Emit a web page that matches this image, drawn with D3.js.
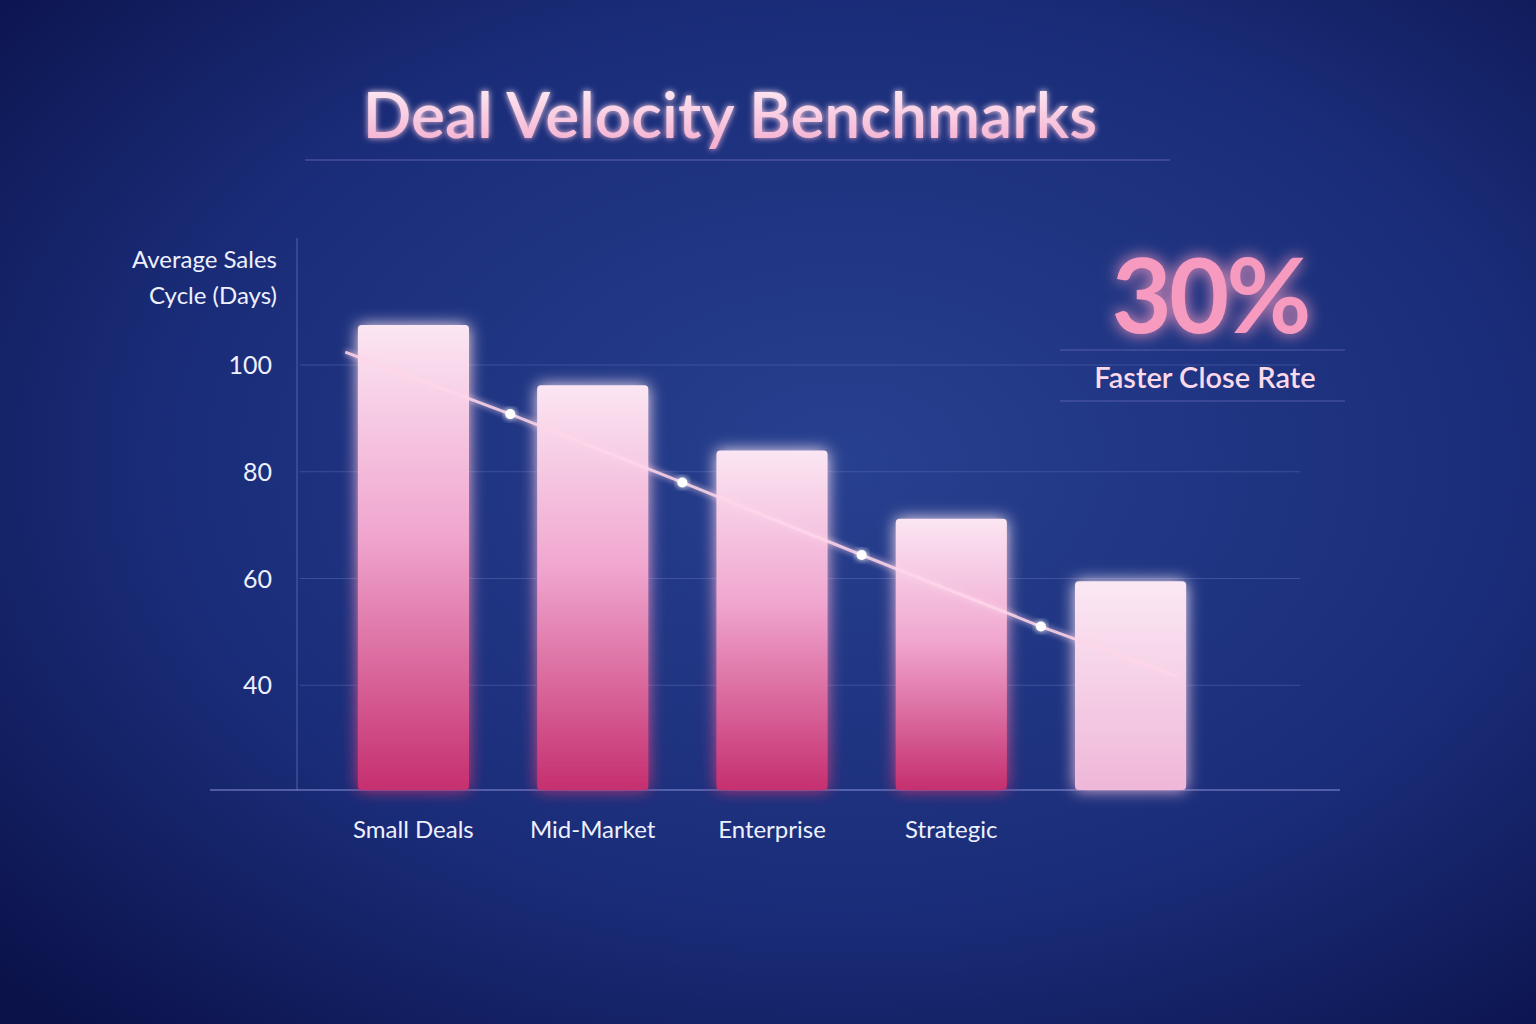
<!DOCTYPE html>
<html><head><meta charset="utf-8">
<script src="https://cdn.jsdelivr.net/npm/d3@7"></script>
<style>body{margin:0;background:#0c1550}svg{display:block}</style>
</head><body>
<svg id="chart" width="1536" height="1024"></svg>
<script>
var categories = ["Small Deals", "Mid-Market", "Enterprise", "Strategic", ""];
var cycleDays = [107.5, 96.2, 84, 71.2, 59.5];
var yTicks = [40, 60, 80, 100];
var trendIndex = [-0.38, 0.54, 1.5, 2.5, 3.5, 4.26];
var trendDays = [102.4, 90.8, 78, 64.4, 51, 41.7];

var svg = d3.select("#chart");
var defs = svg.append("defs");

var bg = defs.append("radialGradient").attr("id", "bg").attr("cx", "0.55").attr("cy", "0.45").attr("r", "0.75");
bg.append("stop").attr("offset", "0").attr("stop-color", "#27408f");
bg.append("stop").attr("offset", "0.6").attr("stop-color", "#1a2c78");
bg.append("stop").attr("offset", "1").attr("stop-color", "#0b124a");
svg.append("rect").attr("width", 1536).attr("height", 1024).attr("fill", "url(#bg)");

var barG = defs.append("linearGradient").attr("id", "barG").attr("x1", 0).attr("y1", 0).attr("x2", 0).attr("y2", 1);
barG.append("stop").attr("offset", "0").attr("stop-color", "#fbe6f3");
barG.append("stop").attr("offset", "0.45").attr("stop-color", "#f0a6cf");
barG.append("stop").attr("offset", "1").attr("stop-color", "#c52f6f");
var lastG = defs.append("linearGradient").attr("id", "lastG").attr("x1", 0).attr("y1", 0).attr("x2", 0).attr("y2", 1);
lastG.append("stop").attr("offset", "0").attr("stop-color", "#fbe8f4");
lastG.append("stop").attr("offset", "1").attr("stop-color", "#efb7d8");
var titleG = defs.append("linearGradient").attr("id", "titleG").attr("x1", 0).attr("y1", 0).attr("x2", 0).attr("y2", 1);
titleG.append("stop").attr("offset", "0").attr("stop-color", "#fff4fa");
titleG.append("stop").attr("offset", "1").attr("stop-color", "#f4a9cc");
var glow = defs.append("filter").attr("id", "glow").attr("x", "-30%").attr("y", "-30%").attr("width", "160%").attr("height", "160%");
glow.append("feGaussianBlur").attr("stdDeviation", 8).attr("result", "b");
var m = glow.append("feMerge");
m.append("feMergeNode").attr("in", "b");
m.append("feMergeNode").attr("in", "SourceGraphic");
var soft = defs.append("filter").attr("id", "soft").attr("x", "-30%").attr("y", "-30%").attr("width", "160%").attr("height", "160%");
soft.append("feGaussianBlur").attr("stdDeviation", 3).attr("result", "b");
var m2 = soft.append("feMerge");
m2.append("feMergeNode").attr("in", "b");
m2.append("feMergeNode").attr("in", "SourceGraphic");

// title
svg.append("text").attr("x", 730).attr("y", 138).attr("text-anchor", "middle")
  .attr("font-family", "Lato, 'Open Sans', sans-serif").attr("font-size", 64).attr("font-weight", 600)
  .attr("fill", "url(#titleG)").attr("filter", "url(#soft)").text("Deal Velocity Benchmarks");
svg.append("line").attr("x1", 305).attr("x2", 1170).attr("y1", 160).attr("y2", 160)
  .attr("stroke", "#8a7fd0").attr("stroke-opacity", 0.6);

var x = d3.scaleBand().domain(d3.range(categories.length)).range([322, 1222]).paddingInner(0.38).paddingOuter(0.2);
var y = d3.scaleLinear().domain([20, 100]).range([792, 365]);
var step = x.step(), c0 = x(0) + x.bandwidth() / 2;

// grid
svg.append("g").selectAll("line").data(yTicks).join("line")
  .attr("x1", 300).attr("x2", 1300).attr("y1", y).attr("y2", y)
  .attr("stroke", "#5a6bb5").attr("stroke-opacity", 0.5);
svg.append("g").selectAll("text").data(yTicks).join("text")
  .attr("x", 272).attr("y", function(d) { return y(d) + 9; }).attr("text-anchor", "end")
  .attr("font-family", "Lato, sans-serif").attr("font-size", 25).attr("fill", "#eef0ff").text(function(d) { return d; });
svg.append("line").attr("x1", 297).attr("x2", 297).attr("y1", 238).attr("y2", 790).attr("stroke", "#6a78c0").attr("stroke-opacity", 0.7);
svg.append("line").attr("x1", 210).attr("x2", 1340).attr("y1", 790).attr("y2", 790).attr("stroke", "#8a90d8");

svg.append("text").attr("text-anchor", "end").attr("font-family", "Lato, sans-serif").attr("font-size", 24).attr("fill", "#eef0ff")
  .selectAll("tspan").data(["Average Sales", "Cycle (Days)"]).join("tspan")
  .attr("x", 277).attr("y", function(d, i) { return 268 + i * 36; }).text(function(d) { return d; });

// bars
svg.append("g").selectAll("rect").data(cycleDays).join("rect")
  .attr("x", function(d, i) { return x(i); }).attr("width", x.bandwidth())
  .attr("y", function(d) { return y(d); }).attr("height", function(d) { return y(20) - y(d) - 2; })
  .attr("rx", 4)
  .attr("fill", function(d, i) { return i === cycleDays.length - 1 ? "url(#lastG)" : "url(#barG)"; })
  .attr("filter", "url(#glow)");

// labels
svg.append("g").selectAll("text").data(categories).join("text")
  .attr("x", function(d, i) { return c0 + i * step; }).attr("y", 838).attr("text-anchor", "middle")
  .attr("font-family", "Lato, sans-serif").attr("font-size", 24).attr("fill", "#eef0ff").text(function(d) { return d; });

// trend
var pts = trendIndex.map(function(t, i) { return [c0 + t * step, y(trendDays[i])]; });
svg.append("path").attr("d", d3.line()(pts)).attr("fill", "none").attr("stroke", "#ffd6ea")
  .attr("stroke-width", 3).attr("filter", "url(#soft)").attr("opacity", 0.9);
svg.append("g").selectAll("circle").data(pts.slice(1, -1)).join("circle")
  .attr("cx", function(d) { return d[0]; }).attr("cy", function(d) { return d[1]; }).attr("r", 5)
  .attr("fill", "#fff").attr("filter", "url(#soft)");

// callout
svg.append("text").attr("x", 1210).attr("y", 333).attr("text-anchor", "middle")
  .attr("font-family", "Lato, sans-serif").attr("font-weight", 700).attr("font-size", 104).attr("letter-spacing", -3)
  .attr("fill", "#f79ac0").attr("filter", "url(#glow)").text("30%");
svg.append("line").attr("x1", 1060).attr("x2", 1345).attr("y1", 350).attr("y2", 350).attr("stroke", "#8a7fd0").attr("stroke-opacity", 0.5);
svg.append("line").attr("x1", 1060).attr("x2", 1345).attr("y1", 401).attr("y2", 401).attr("stroke", "#8a7fd0").attr("stroke-opacity", 0.5);
svg.append("text").attr("x", 1205).attr("y", 388).attr("text-anchor", "middle")
  .attr("font-family", "Lato, sans-serif").attr("font-weight", 600).attr("font-size", 29)
  .attr("fill", "#fbd9ea").text("Faster Close Rate");
</script>
</body></html>
